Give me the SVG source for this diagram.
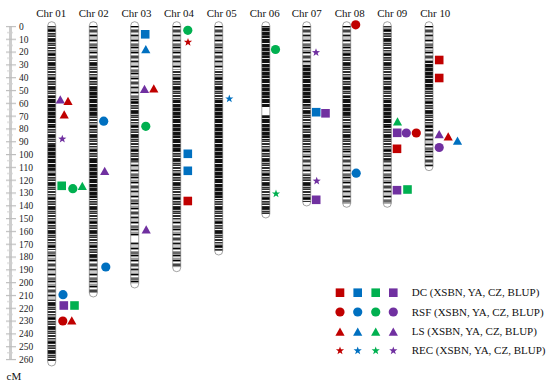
<svg xmlns="http://www.w3.org/2000/svg" xmlns:xlink="http://www.w3.org/1999/xlink" width="550" height="385" viewBox="0 0 550 385">
<style>
text{font-family:"Liberation Serif","Times New Roman",serif;fill:#111}
.ax{font-size:9.5px;fill:#222}
.cl{font-size:11px;text-anchor:middle}
.lg{font-size:11px}
.cap{fill:#fff}
.ol{fill:none;stroke:#666;stroke-width:0.6}
.d{fill:url(#pD)}.m{fill:url(#pM)}.l{fill:url(#pL)}.w{fill:#fff}
.r{fill:#C00000}.b{fill:#0070C0}.g{fill:#00B050}.p{fill:#7030A0}
</style>
<defs>
<pattern id="pD" patternUnits="userSpaceOnUse" width="10" height="20">
<rect width="10" height="20" fill="#111"/>
<rect y="3" width="10" height="1" fill="#eee"/>
<rect y="7" width="10" height="1" fill="#777"/>
<rect y="11" width="10" height="0.8" fill="#bbb"/>
<rect y="15" width="10" height="1" fill="#555"/>
<rect y="18" width="10" height="1" fill="#ddd"/>
</pattern>
<pattern id="pM" patternUnits="userSpaceOnUse" width="10" height="24">
<rect width="10" height="24" fill="#2e2e2e"/>
<rect y="1" width="10" height="1" fill="#fff"/>
<rect y="3" width="10" height="2" fill="#999"/>
<rect y="6" width="10" height="1" fill="#000"/>
<rect y="8" width="10" height="1" fill="#e8e8e8"/>
<rect y="10" width="10" height="2" fill="#6a6a6a"/>
<rect y="13" width="10" height="1" fill="#fff"/>
<rect y="15" width="10" height="2" fill="#111"/>
<rect y="18" width="10" height="1" fill="#bbb"/>
<rect y="20" width="10" height="1" fill="#777"/>
<rect y="22" width="10" height="1" fill="#fff"/>
</pattern>
<pattern id="pL" patternUnits="userSpaceOnUse" width="10" height="26">
<rect width="10" height="26" fill="#999"/>
<rect y="0" width="10" height="1" fill="#000"/>
<rect y="2" width="10" height="1" fill="#fff"/>
<rect y="4" width="10" height="2" fill="#444"/>
<rect y="7" width="10" height="1" fill="#eee"/>
<rect y="9" width="10" height="1" fill="#111"/>
<rect y="11" width="10" height="2" fill="#ccc"/>
<rect y="14" width="10" height="1" fill="#000"/>
<rect y="16" width="10" height="1" fill="#fff"/>
<rect y="18" width="10" height="2" fill="#666"/>
<rect y="21" width="10" height="1" fill="#000"/>
<rect y="23" width="10" height="1" fill="#ddd"/>
</pattern>
<pattern id="ticks" patternUnits="userSpaceOnUse" x="6" y="25.9" width="10" height="12.81">
<rect x="0" y="0" width="10" height="1.2" fill="#bdbdbd"/>
<rect x="1" y="6.2" width="6" height="1" fill="#cfcfcf"/>
</pattern>
<path id="sq" d="M-4.3,-4.3h8.6v8.6h-8.6z"/>
<circle id="ci" r="4.6"/>
<path id="tr" d="M0,-4.3L4.6,4L-4.6,4z"/>
<path id="st" d="M0,-4.3L1.03,-1.42L4.09,-1.33L1.66,0.54L2.53,3.48L0,1.75L-2.53,3.48L-1.66,0.54L-4.09,-1.33L-1.03,-1.42Z"/>
</defs>
<rect width="550" height="385" fill="#fff"/>

<g id="axis">
<rect x="9" y="26" width="3" height="334" fill="#cdcdcd"/>
<rect x="6" y="25.9" width="10" height="335" fill="url(#ticks)"/>
<text class="ax" x="19" y="29.8">0</text>
<text class="ax" x="19" y="42.6">10</text>
<text class="ax" x="19" y="55.4">20</text>
<text class="ax" x="19" y="68.2">30</text>
<text class="ax" x="19" y="81">40</text>
<text class="ax" x="19" y="93.9">50</text>
<text class="ax" x="19" y="106.7">60</text>
<text class="ax" x="19" y="119.5">70</text>
<text class="ax" x="19" y="132.3">80</text>
<text class="ax" x="19" y="145.1">90</text>
<text class="ax" x="19" y="157.9">100</text>
<text class="ax" x="19" y="170.7">110</text>
<text class="ax" x="19" y="183.5">120</text>
<text class="ax" x="19" y="196.3">130</text>
<text class="ax" x="19" y="209.1">140</text>
<text class="ax" x="19" y="222">150</text>
<text class="ax" x="19" y="234.8">160</text>
<text class="ax" x="19" y="247.6">170</text>
<text class="ax" x="19" y="260.4">180</text>
<text class="ax" x="19" y="273.2">190</text>
<text class="ax" x="19" y="286">200</text>
<text class="ax" x="19" y="298.8">210</text>
<text class="ax" x="19" y="311.6">220</text>
<text class="ax" x="19" y="324.4">230</text>
<text class="ax" x="19" y="337.2">240</text>
<text class="ax" x="19" y="350.1">250</text>
<text class="ax" x="19" y="362.9">260</text>
<text x="6.5" y="380" font-size="11">cM</text>
</g>

<g id="labels">
<text class="cl" x="51.2" y="17.3" textLength="30" lengthAdjust="spacingAndGlyphs">Chr 01</text>
<text class="cl" x="93.7" y="17.3" textLength="30" lengthAdjust="spacingAndGlyphs">Chr 02</text>
<text class="cl" x="136.5" y="17.3" textLength="30" lengthAdjust="spacingAndGlyphs">Chr 03</text>
<text class="cl" x="179" y="17.3" textLength="30" lengthAdjust="spacingAndGlyphs">Chr 04</text>
<text class="cl" x="221.7" y="17.3" textLength="30" lengthAdjust="spacingAndGlyphs">Chr 05</text>
<text class="cl" x="264.7" y="17.3" textLength="30" lengthAdjust="spacingAndGlyphs">Chr 06</text>
<text class="cl" x="306.7" y="17.3" textLength="30" lengthAdjust="spacingAndGlyphs">Chr 07</text>
<text class="cl" x="349.7" y="17.3" textLength="30" lengthAdjust="spacingAndGlyphs">Chr 08</text>
<text class="cl" x="392.3" y="17.3" textLength="30" lengthAdjust="spacingAndGlyphs">Chr 09</text>
<text class="cl" x="435.3" y="17.3" textLength="30" lengthAdjust="spacingAndGlyphs">Chr 10</text>
</g>

<g id="chr01">
<rect class="cap" x="47.7" y="21.7" width="8" height="344.3" rx="4"/>
<rect class="m" x="47.7" y="26" width="8" height="69"/>
<rect class="d" x="47.7" y="95" width="8" height="30"/>
<rect class="m" x="47.7" y="125" width="8" height="20"/>
<rect class="d" x="47.7" y="145" width="8" height="25"/>
<rect class="m" x="47.7" y="170" width="8" height="80"/>
<rect class="l" x="47.7" y="250" width="8" height="50"/>
<rect class="m" x="47.7" y="300" width="8" height="62"/>
<rect class="ol" x="47.7" y="21.7" width="8" height="344.3" rx="4"/>
<use href="#tr" class="p" x="60.3" y="99.5"/>
<use href="#tr" class="r" x="68" y="101"/>
<use href="#tr" class="r" x="64.2" y="114.5"/>
<use href="#st" class="p" x="62.3" y="139"/>
<use href="#sq" class="g" x="61.7" y="185.8"/>
<use href="#ci" class="g" x="72.8" y="188.7"/>
<use href="#tr" class="g" x="82.3" y="186"/>
<use href="#ci" class="b" x="63" y="294.7"/>
<use href="#sq" class="p" x="63.8" y="305.5"/>
<use href="#sq" class="g" x="74.5" y="305.5"/>
<use href="#ci" class="r" x="62.8" y="321"/>
<use href="#tr" class="r" x="71.8" y="320.5"/>
</g>

<g id="chr02">
<rect class="cap" x="89.3" y="21.7" width="8" height="275.3" rx="4"/>
<rect class="l" x="89.3" y="26" width="8" height="34"/>
<rect class="m" x="89.3" y="60" width="8" height="30"/>
<rect class="d" x="89.3" y="90" width="8" height="25"/>
<rect class="m" x="89.3" y="115" width="8" height="45"/>
<rect class="d" x="89.3" y="160" width="8" height="40"/>
<rect class="m" x="89.3" y="200" width="8" height="60"/>
<rect class="l" x="89.3" y="260" width="8" height="33"/>
<rect class="ol" x="89.3" y="21.7" width="8" height="275.3" rx="4"/>
<use href="#ci" class="b" x="103.7" y="121.2"/>
<use href="#tr" class="p" x="104.7" y="171"/>
<use href="#ci" class="b" x="105.8" y="267"/>
</g>

<g id="chr03">
<rect class="cap" x="130.7" y="21.7" width="8" height="266.3" rx="4"/>
<rect class="l" x="130.7" y="26" width="8" height="74"/>
<rect class="m" x="130.7" y="100" width="8" height="60"/>
<rect class="l" x="130.7" y="160" width="8" height="76"/>
<rect class="w" x="130.7" y="236" width="8" height="6"/>
<rect class="l" x="130.7" y="242" width="8" height="42"/>
<rect class="ol" x="130.7" y="21.7" width="8" height="266.3" rx="4"/>
<use href="#sq" class="b" x="145.2" y="34.3"/>
<use href="#tr" class="b" x="145.8" y="49.3"/>
<use href="#tr" class="p" x="144.5" y="89"/>
<use href="#tr" class="r" x="153.8" y="88.5"/>
<use href="#ci" class="g" x="145.8" y="126.3"/>
<use href="#tr" class="p" x="146.2" y="229.5"/>
</g>

<g id="chr04">
<rect class="cap" x="172.7" y="21.7" width="8" height="250" rx="4"/>
<rect class="l" x="172.7" y="26" width="8" height="44"/>
<rect class="m" x="172.7" y="70" width="8" height="30"/>
<rect class="d" x="172.7" y="100" width="8" height="50"/>
<rect class="m" x="172.7" y="150" width="8" height="70"/>
<rect class="l" x="172.7" y="220" width="8" height="47.7"/>
<rect class="ol" x="172.7" y="21.7" width="8" height="250" rx="4"/>
<use href="#ci" class="g" x="187.8" y="30.3"/>
<use href="#st" class="r" x="188" y="42.2"/>
<use href="#sq" class="b" x="187.8" y="153.8"/>
<use href="#sq" class="b" x="187.8" y="170.8"/>
<use href="#sq" class="r" x="187.8" y="201"/>
</g>

<g id="chr05">
<rect class="cap" x="214.7" y="21.7" width="8" height="233.3" rx="4"/>
<rect class="l" x="214.7" y="26" width="8" height="44"/>
<rect class="m" x="214.7" y="70" width="8" height="30"/>
<rect class="d" x="214.7" y="100" width="8" height="100"/>
<rect class="m" x="214.7" y="200" width="8" height="51"/>
<rect class="ol" x="214.7" y="21.7" width="8" height="233.3" rx="4"/>
<use href="#st" class="b" x="229.3" y="98.8"/>
</g>

<g id="chr06">
<rect class="cap" x="261.8" y="21.7" width="8" height="196.3" rx="4"/>
<rect class="d" x="261.8" y="26" width="8" height="81"/>
<rect class="w" x="261.8" y="107" width="8" height="8"/>
<rect class="d" x="261.8" y="115" width="8" height="25"/>
<rect class="m" x="261.8" y="140" width="8" height="74"/>
<rect class="ol" x="261.8" y="21.7" width="8" height="196.3" rx="4"/>
<use href="#ci" class="g" x="275.5" y="49.5"/>
<use href="#st" class="g" x="276" y="193.8"/>
</g>

<g id="chr07">
<rect class="cap" x="302.7" y="21.7" width="8" height="184.3" rx="4"/>
<rect class="l" x="302.7" y="26" width="8" height="39"/>
<rect class="d" x="302.7" y="65" width="8" height="40"/>
<rect class="m" x="302.7" y="105" width="8" height="45"/>
<rect class="l" x="302.7" y="150" width="8" height="25"/>
<rect class="m" x="302.7" y="175" width="8" height="27"/>
<rect class="ol" x="302.7" y="21.7" width="8" height="184.3" rx="4"/>
<use href="#st" class="p" x="316" y="52.5"/>
<use href="#sq" class="b" x="316.2" y="112.2"/>
<use href="#sq" class="p" x="325.5" y="113.3"/>
<use href="#st" class="p" x="316.7" y="181"/>
<use href="#sq" class="p" x="316.2" y="199.8"/>
</g>

<g id="chr08">
<rect class="cap" x="342.7" y="21.7" width="8" height="185.6" rx="4"/>
<rect class="l" x="342.7" y="26" width="8" height="24"/>
<rect class="m" x="342.7" y="50" width="8" height="45"/>
<rect class="d" x="342.7" y="95" width="8" height="20"/>
<rect class="m" x="342.7" y="115" width="8" height="35"/>
<rect class="l" x="342.7" y="150" width="8" height="53.3"/>
<rect class="ol" x="342.7" y="21.7" width="8" height="185.6" rx="4"/>
<use href="#ci" class="r" x="355.7" y="24.8"/>
<use href="#ci" class="b" x="356.2" y="173.2"/>
</g>

<g id="chr09">
<rect class="cap" x="383.3" y="21.7" width="8" height="185.6" rx="4"/>
<rect class="m" x="383.3" y="26" width="8" height="74"/>
<rect class="d" x="383.3" y="100" width="8" height="25"/>
<rect class="m" x="383.3" y="125" width="8" height="35"/>
<rect class="l" x="383.3" y="160" width="8" height="43.3"/>
<rect class="ol" x="383.3" y="21.7" width="8" height="185.6" rx="4"/>
<use href="#tr" class="g" x="397.5" y="121.5"/>
<use href="#sq" class="p" x="397.2" y="132.8"/>
<use href="#ci" class="p" x="406.3" y="133"/>
<use href="#ci" class="r" x="416.3" y="133"/>
<use href="#sq" class="r" x="397" y="148.8"/>
<use href="#sq" class="p" x="397" y="190.2"/>
<use href="#sq" class="g" x="407.5" y="189.5"/>
</g>

<g id="chr10">
<rect class="cap" x="425" y="21.7" width="8" height="149" rx="4"/>
<rect class="l" x="425" y="26" width="8" height="36"/>
<rect class="d" x="425" y="62" width="8" height="26"/>
<rect class="m" x="425" y="88" width="8" height="42"/>
<rect class="l" x="425" y="130" width="8" height="36.7"/>
<rect class="ol" x="425" y="21.7" width="8" height="149" rx="4"/>
<use href="#sq" class="r" x="439.2" y="60"/>
<use href="#sq" class="r" x="439.2" y="78"/>
<use href="#tr" class="p" x="439.2" y="134.2"/>
<use href="#tr" class="r" x="448.2" y="136.5"/>
<use href="#tr" class="b" x="457.5" y="140.8"/>
<use href="#ci" class="p" x="439.2" y="147.5"/>
</g>

<g id="legend">
<use href="#sq" class="r" x="340" y="292.7"/>
<use href="#sq" class="b" x="357.7" y="292.7"/>
<use href="#sq" class="g" x="375.7" y="292.7"/>
<use href="#sq" class="p" x="393.3" y="292.7"/>
<text class="lg" x="411.7" y="296.3">DC (XSBN, YA, CZ, BLUP)</text>
<use href="#ci" class="r" x="340" y="312"/>
<use href="#ci" class="b" x="357.7" y="312"/>
<use href="#ci" class="g" x="375.7" y="312"/>
<use href="#ci" class="p" x="393.3" y="312"/>
<text class="lg" x="411.7" y="315.5">RSF (XSBN, YA, CZ, BLUP)</text>
<use href="#tr" class="r" x="340" y="331.7"/>
<use href="#tr" class="b" x="357.7" y="331.7"/>
<use href="#tr" class="g" x="375.7" y="331.7"/>
<use href="#tr" class="p" x="393.3" y="331.7"/>
<text class="lg" x="411.7" y="335.3">LS (XSBN, YA, CZ, BLUP)</text>
<use href="#st" class="r" x="340" y="350.7"/>
<use href="#st" class="b" x="357.7" y="350.7"/>
<use href="#st" class="g" x="375.7" y="350.7"/>
<use href="#st" class="p" x="393.3" y="350.7"/>
<text class="lg" x="411.7" y="354.3">REC (XSBN, YA, CZ, BLUP)</text>
</g>
</svg>
